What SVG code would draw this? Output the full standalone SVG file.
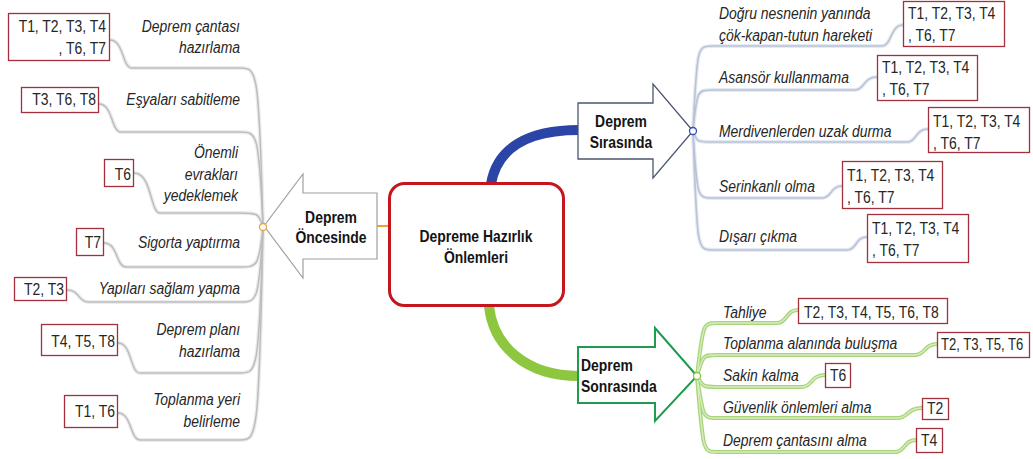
<svg xmlns="http://www.w3.org/2000/svg" width="1033" height="459" viewBox="0 0 1033 459">
  <style>
    .lbl { font-family: "Liberation Sans", Arial, sans-serif; font-style: italic; font-size: 16px; fill: #262626; }
    .tag { font-family: "Liberation Sans", Arial, sans-serif; font-size: 16px; fill: #262626; }
    .hd  { font-family: "Liberation Sans", Arial, sans-serif; font-weight: bold; font-size: 16px; fill: #141414; }
    .box { fill: #ffffff; stroke: #a3303c; stroke-width: 1.3; }
    .gray-halo { fill: none; stroke: #ececec; stroke-width: 4; }
    .gray { fill: none; stroke: #bdbdbd; stroke-width: 1.5; }
    .blue-halo { fill: none; stroke: #e6ebf3; stroke-width: 4; }
    .blue { fill: none; stroke: #b9c3d6; stroke-width: 1.6; }
    .green-halo { fill: none; stroke: #a9d57a; stroke-width: 4; }
    .green { fill: none; stroke: #d8ecc2; stroke-width: 1.4; }
  </style>
  <rect width="1033" height="459" fill="#ffffff"/>

  <!-- connectors -->
  <g id="connectors">
    <path d="M491,184 C497,148 528,130 579,130" fill="none" stroke="#2b45a6" stroke-width="10"/>
    <path d="M489,306 C493,346 526,376 579,376" fill="none" stroke="#8dc63f" stroke-width="10"/>
    <line x1="377" y1="226" x2="388" y2="226" stroke="#f0a030" stroke-width="2"/>

    <!-- branches before the quake -->
    <g>
      <path class="gray-halo" d="M263,227 C259,68 257,68 240,68 L132,68 C122,68 124,40 110,40"/>
      <path class="gray-halo" d="M263,227 C259,132 257,132 240,132 L121,132 C111,132 113,104 99,104"/>
      <path class="gray-halo" d="M263,227 C259,213 257,213 240,213 L160,213 C150,213 152,173 134,173"/>
      <path class="gray-halo" d="M263,227 C259,267 257,267 240,267 L126,267 C116,267 118,243 104,243"/>
      <path class="gray-halo" d="M263,227 C259,302 257,302 240,302 L88,302 C78,302 80,290 67,290"/>
      <path class="gray-halo" d="M263,227 C259,373 257,373 240,373 L140,373 C130,373 132,343 118,343"/>
      <path class="gray-halo" d="M263,227 C259,440 257,440 240,440 L140,440 C130,440 132,413 118,413"/>
      <path class="gray" d="M263,227 C259,68 257,68 240,68 L132,68 C122,68 124,40 110,40"/>
      <path class="gray" d="M263,227 C259,132 257,132 240,132 L121,132 C111,132 113,104 99,104"/>
      <path class="gray" d="M263,227 C259,213 257,213 240,213 L160,213 C150,213 152,173 134,173"/>
      <path class="gray" d="M263,227 C259,267 257,267 240,267 L126,267 C116,267 118,243 104,243"/>
      <path class="gray" d="M263,227 C259,302 257,302 240,302 L88,302 C78,302 80,290 67,290"/>
      <path class="gray" d="M263,227 C259,373 257,373 240,373 L140,373 C130,373 132,343 118,343"/>
      <path class="gray" d="M263,227 C259,440 257,440 240,440 L140,440 C130,440 132,413 118,413"/>
    </g>

    <!-- branches during the quake -->
    <g>
      <path class="blue-halo" d="M693,131 C697,46 697,46 713,46 L882,46 C892,46 890,25 903,25"/>
      <path class="blue-halo" d="M693,131 C697,90 697,90 713,90 L855,90 C865,90 863,77 877,77"/>
      <path class="blue-halo" d="M693,131 C697,142 697,142 713,142 L907,142 C917,142 915,129 928,129"/>
      <path class="blue-halo" d="M693,131 C697,198 697,198 713,198 L822,198 C832,198 830,186 842,186"/>
      <path class="blue-halo" d="M693,131 C697,250 697,250 713,250 L847,250 C857,250 855,237 867,237"/>
      <path class="blue" d="M693,131 C697,46 697,46 713,46 L882,46 C892,46 890,25 903,25"/>
      <path class="blue" d="M693,131 C697,90 697,90 713,90 L855,90 C865,90 863,77 877,77"/>
      <path class="blue" d="M693,131 C697,142 697,142 713,142 L907,142 C917,142 915,129 928,129"/>
      <path class="blue" d="M693,131 C697,198 697,198 713,198 L822,198 C832,198 830,186 842,186"/>
      <path class="blue" d="M693,131 C697,250 697,250 713,250 L847,250 C857,250 855,237 867,237"/>
    </g>

    <!-- branches after the quake -->
    <g>
      <path class="green-halo" d="M697,376 C703,323 703,323 717,323 L777,323 C787,323 786,310 798,310"/>
      <path class="green-halo" d="M697,376 C703,355 703,355 717,355 L915,355 C925,355 924,344 937,344"/>
      <path class="green-halo" d="M697,376 C703,387 703,387 717,387 L802,387 C812,387 811,375 825,375"/>
      <path class="green-halo" d="M697,376 C703,418 703,418 717,418 L898,418 C908,418 907,408 922,408"/>
      <path class="green-halo" d="M697,376 C703,452 703,452 717,452 L895,452 C905,452 904,440 916,440"/>
      <path class="green" d="M697,376 C703,323 703,323 717,323 L777,323 C787,323 786,310 798,310"/>
      <path class="green" d="M697,376 C703,355 703,355 717,355 L915,355 C925,355 924,344 937,344"/>
      <path class="green" d="M697,376 C703,387 703,387 717,387 L802,387 C812,387 811,375 825,375"/>
      <path class="green" d="M697,376 C703,418 703,418 717,418 L898,418 C908,418 907,408 922,408"/>
      <path class="green" d="M697,376 C703,452 703,452 717,452 L895,452 C905,452 904,440 916,440"/>
    </g>
  </g>

  <!-- central topic -->
  <g id="center">
    <rect x="389.5" y="183.5" width="174" height="122" rx="15" fill="#ffffff" stroke="#c4161c" stroke-width="3"/>
    <text class="hd" text-anchor="middle" transform="translate(476 242) scale(.87 1)"><tspan x="0" y="0">Depreme Hazırlık</tspan><tspan x="0" y="21">Önlemleri</tspan></text>
  </g>

  <!-- main branches -->
  <g id="before">
    <polygon points="377,193 303,193 303,174 264,226 303,278 303,259 377,259" fill="#ffffff" stroke="#a0a0a0" stroke-width="1.2"/>
    <text class="hd" text-anchor="middle" transform="translate(331 223) scale(.87 1)"><tspan x="0" y="0">Deprem</tspan><tspan x="0" y="20">Öncesinde</tspan></text>
    <circle cx="263" cy="227" r="3.5" fill="#ffffff" stroke="#e8a040" stroke-width="1.3"/>
  </g>
  <g id="during">
    <polygon points="578,103 653,103 653,84 693,131 653,178 653,159 578,159" fill="#ffffff" stroke="#4b5670" stroke-width="1.3"/>
    <text class="hd" text-anchor="middle" transform="translate(621 127) scale(.87 1)"><tspan x="0" y="0">Deprem</tspan><tspan x="0" y="21">Sırasında</tspan></text>
    <circle cx="693" cy="131" r="3.5" fill="#ffffff" stroke="#3050b0" stroke-width="1.3"/>
  </g>
  <g id="after">
    <polygon points="578,347 655,347 655,328 697,376 655,421 655,403 578,403" fill="#ffffff" stroke="#1e9b4e" stroke-width="2"/>
    <text class="hd" transform="translate(581 371) scale(.87 1)"><tspan x="0" y="0">Deprem</tspan><tspan x="0" y="21">Sonrasında</tspan></text>
    <circle cx="697" cy="376" r="3.5" fill="#ffffff" stroke="#8dc63f" stroke-width="1.3"/>
  </g>

  <!-- before the quake: items -->
  <g id="pre-1">
    <text class="lbl" text-anchor="end" transform="translate(240 32) scale(.87 1)"><tspan x="0" y="0">Deprem çantası</tspan><tspan x="0" y="21">hazırlama</tspan></text>
    <rect class="box" x="8.5" y="13.5" width="101" height="47"/>
    <text class="tag" text-anchor="end" transform="translate(106 32) scale(.87 1)"><tspan x="0" y="0">T1, T2, T3, T4</tspan><tspan x="0" y="22">, T6, T7</tspan></text>
  </g>
  <g id="pre-2">
    <text class="lbl" text-anchor="end" transform="translate(240 105) scale(.87 1)">Eşyaları sabitleme</text>
    <rect class="box" x="21.5" y="87.5" width="77" height="25"/>
    <text class="tag" text-anchor="end" transform="translate(96 105) scale(.87 1)">T3, T6, T8</text>
  </g>
  <g id="pre-3">
    <text class="lbl" text-anchor="end" transform="translate(238 158) scale(.87 1)"><tspan x="0" y="0">Önemli</tspan><tspan x="0" y="22">evrakları</tspan><tspan x="0" y="43">yedeklemek</tspan></text>
    <rect class="box" x="104.5" y="159.5" width="29" height="27"/>
    <text class="tag" text-anchor="end" transform="translate(131 180) scale(.87 1)">T6</text>
  </g>
  <g id="pre-4">
    <text class="lbl" text-anchor="end" transform="translate(240 248) scale(.87 1)">Sigorta yaptırma</text>
    <rect class="box" x="76.5" y="228.5" width="27" height="27"/>
    <text class="tag" text-anchor="end" transform="translate(101 248) scale(.87 1)">T7</text>
  </g>
  <g id="pre-5">
    <text class="lbl" text-anchor="end" transform="translate(240 294) scale(.87 1)">Yapıları sağlam yapma</text>
    <rect class="box" x="14.5" y="277.5" width="52" height="23"/>
    <text class="tag" text-anchor="end" transform="translate(64 295) scale(.87 1)">T2, T3</text>
  </g>
  <g id="pre-6">
    <text class="lbl" text-anchor="end" transform="translate(240 335) scale(.87 1)"><tspan x="0" y="0">Deprem planı</tspan><tspan x="0" y="22">hazırlama</tspan></text>
    <rect class="box" x="41.5" y="324.5" width="76" height="31"/>
    <text class="tag" text-anchor="end" transform="translate(115 347) scale(.87 1)">T4, T5, T8</text>
  </g>
  <g id="pre-7">
    <text class="lbl" text-anchor="end" transform="translate(240 405) scale(.87 1)"><tspan x="0" y="0">Toplanma yeri</tspan><tspan x="0" y="22">belirleme</tspan></text>
    <rect class="box" x="64.5" y="395.5" width="53" height="32"/>
    <text class="tag" text-anchor="end" transform="translate(115 417) scale(.87 1)">T1, T6</text>
  </g>

  <!-- during the quake: items -->
  <g id="dur-1">
    <text class="lbl" transform="translate(719 19) scale(.87 1)"><tspan x="0" y="0">Doğru nesnenin yanında</tspan><tspan x="0" y="22">çök-kapan-tutun hareketi</tspan></text>
    <rect class="box" x="903.5" y="1.5" width="101" height="45"/>
    <text class="tag" transform="translate(908 19) scale(.87 1)"><tspan x="0" y="0">T1, T2, T3, T4</tspan><tspan x="0" y="22">, T6, T7</tspan></text>
  </g>
  <g id="dur-2">
    <text class="lbl" transform="translate(719 83) scale(.87 1)">Asansör kullanmama</text>
    <rect class="box" x="877.5" y="55.5" width="100" height="45"/>
    <text class="tag" transform="translate(882 73) scale(.87 1)"><tspan x="0" y="0">T1, T2, T3, T4</tspan><tspan x="0" y="22">, T6, T7</tspan></text>
  </g>
  <g id="dur-3">
    <text class="lbl" transform="translate(719 137) scale(.87 1)">Merdivenlerden uzak durma</text>
    <rect class="box" x="928.5" y="107.5" width="101" height="45"/>
    <text class="tag" transform="translate(933 127) scale(.87 1)"><tspan x="0" y="0">T1, T2, T3, T4</tspan><tspan x="0" y="22">, T6, T7</tspan></text>
  </g>
  <g id="dur-4">
    <text class="lbl" transform="translate(719 192) scale(.87 1)">Serinkanlı olma</text>
    <rect class="box" x="842.5" y="161.5" width="100" height="47"/>
    <text class="tag" transform="translate(847 181) scale(.87 1)"><tspan x="0" y="0">T1, T2, T3, T4</tspan><tspan x="0" y="22">, T6, T7</tspan></text>
  </g>
  <g id="dur-5">
    <text class="lbl" transform="translate(719 242) scale(.87 1)">Dışarı çıkma</text>
    <rect class="box" x="867.5" y="214.5" width="101" height="48"/>
    <text class="tag" transform="translate(872 234) scale(.87 1)"><tspan x="0" y="0">T1, T2, T3, T4</tspan><tspan x="0" y="22">, T6, T7</tspan></text>
  </g>

  <!-- after the quake: items -->
  <g id="post-1">
    <text class="lbl" transform="translate(723 318) scale(.87 1)">Tahliye</text>
    <rect class="box" x="798.5" y="298.5" width="149" height="25"/>
    <text class="tag" transform="translate(804 318) scale(.87 1)">T2, T3, T4, T5, T6, T8</text>
  </g>
  <g id="post-2">
    <text class="lbl" transform="translate(723 349) scale(.87 1)">Toplanma alanında buluşma</text>
    <rect class="box" x="937.5" y="332.5" width="92" height="25"/>
    <text class="tag" transform="translate(941 350) scale(.82 1)">T2, T3, T5, T6</text>
  </g>
  <g id="post-3">
    <text class="lbl" transform="translate(723 381) scale(.87 1)">Sakin kalma</text>
    <rect class="box" x="825.5" y="363.5" width="25" height="24"/>
    <text class="tag" transform="translate(830 381) scale(.87 1)">T6</text>
  </g>
  <g id="post-4">
    <text class="lbl" transform="translate(723 413) scale(.87 1)">Güvenlik önlemleri alma</text>
    <rect class="box" x="922.5" y="398.5" width="26" height="21"/>
    <text class="tag" transform="translate(927 414) scale(.87 1)">T2</text>
  </g>
  <g id="post-5">
    <text class="lbl" transform="translate(723 446) scale(.87 1)">Deprem çantasını alma</text>
    <rect class="box" x="916.5" y="428.5" width="26" height="24"/>
    <text class="tag" transform="translate(921 446) scale(.87 1)">T4</text>
  </g>
</svg>
